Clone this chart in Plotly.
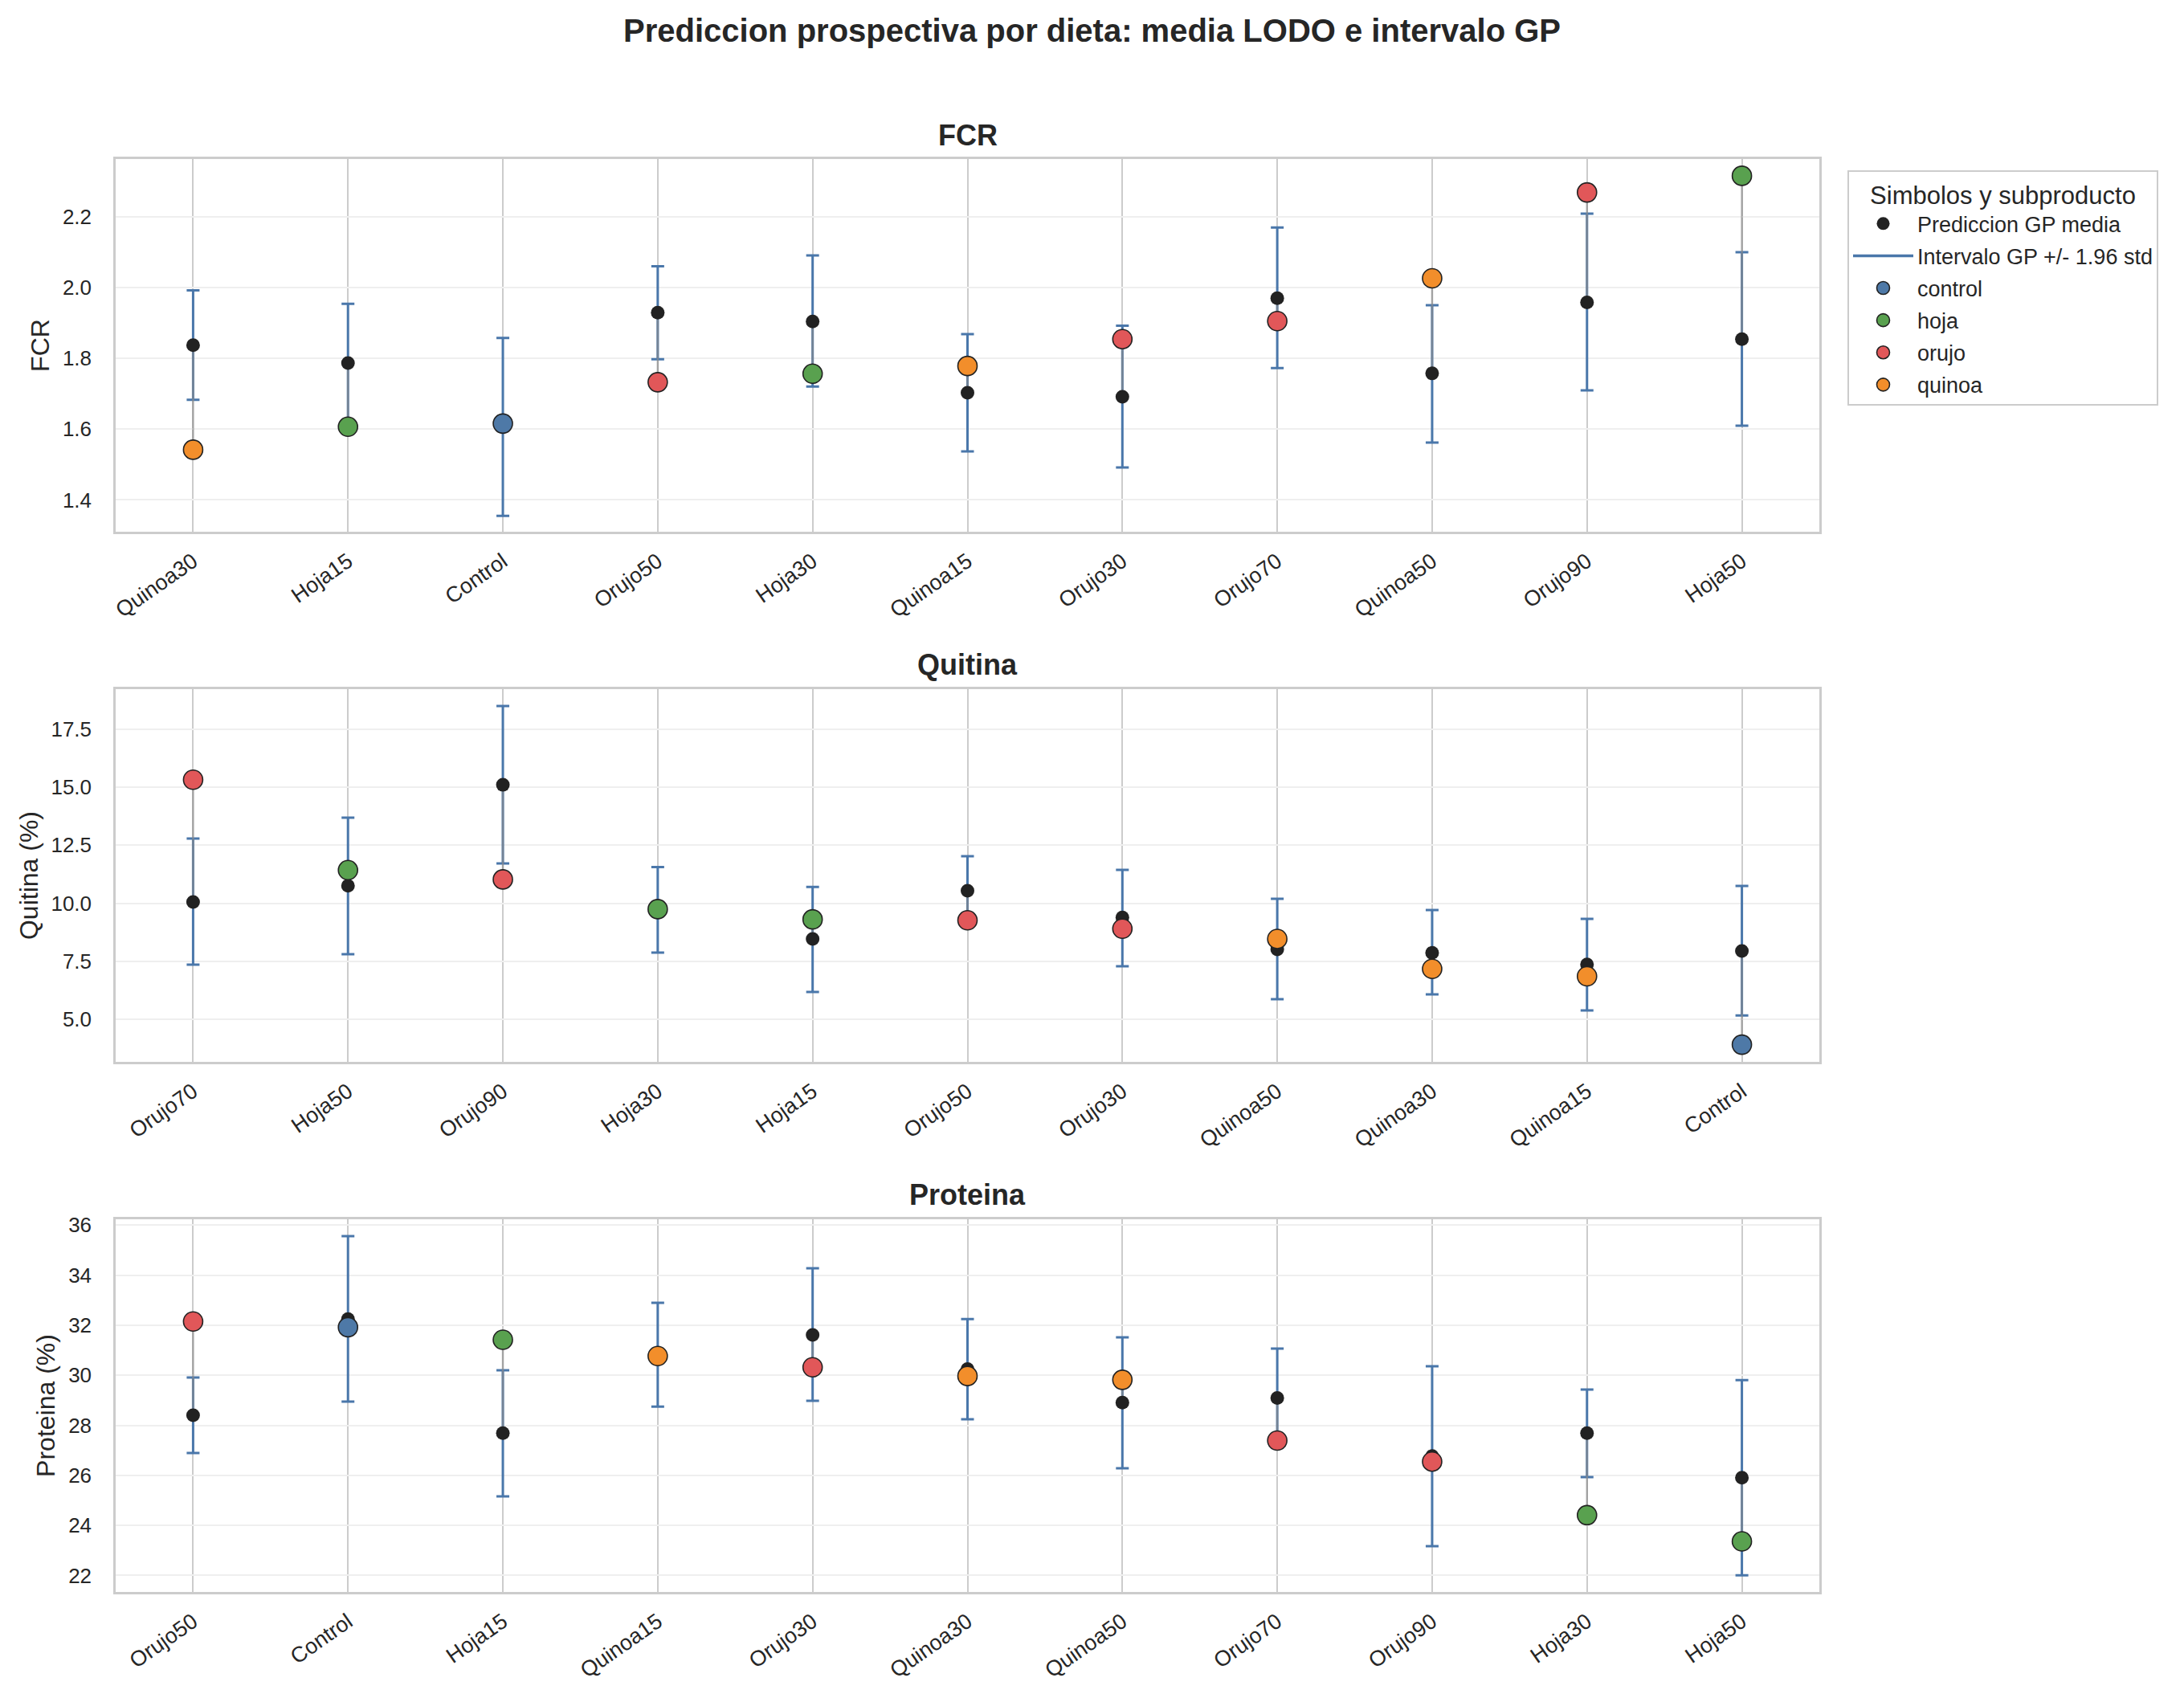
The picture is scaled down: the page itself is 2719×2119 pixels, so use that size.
import plotly.graph_objects as go

# ---------------- data ----------------
fcr_cats = ["Quinoa30", "Hoja15", "Control", "Orujo50", "Hoja30", "Quinoa15",
            "Orujo30", "Orujo70", "Quinoa50", "Orujo90", "Hoja50"]
fcr_mean = [1.838, 1.787, 1.607, 1.930, 1.905, 1.703, 1.692, 1.971, 1.758, 1.959, 1.855]
fcr_low = [1.683, 1.619, 1.355, 1.798, 1.721, 1.537, 1.492, 1.773, 1.562, 1.710, 1.610]
fcr_high = [1.993, 1.955, 1.858, 2.061, 2.092, 1.869, 1.893, 2.171, 1.951, 2.210, 2.101]
fcr_obs = [1.542, 1.607, 1.616, 1.733, 1.757, 1.779, 1.855, 1.906, 2.027, 2.270, 2.317]

qui_cats = ["Orujo70", "Hoja50", "Orujo90", "Hoja30", "Hoja15", "Orujo50",
            "Orujo30", "Quinoa50", "Quinoa30", "Quinoa15", "Control"]
qui_mean = [10.06, 10.76, 15.10, 9.72, 8.47, 10.54, 9.39, 8.02, 7.87, 7.37, 7.95]
qui_low = [7.36, 7.81, 11.72, 7.88, 6.19, 9.05, 7.29, 5.88, 6.08, 5.39, 5.18]
qui_high = [12.79, 13.69, 18.49, 11.56, 10.71, 12.03, 11.44, 10.20, 9.71, 9.33, 10.75]
qui_obs = [15.32, 11.43, 11.03, 9.75, 9.31, 9.27, 8.91, 8.47, 7.18, 6.86, 3.92]

pro_cats = ["Orujo50", "Control", "Hoja15", "Quinoa15", "Orujo30", "Quinoa30",
            "Quinoa50", "Orujo70", "Orujo90", "Hoja30", "Hoja50"]
pro_mean = [28.40, 32.25, 27.69, 30.82, 31.61, 30.25, 28.91, 29.09, 26.77, 27.69, 25.91]
pro_low = [26.89, 28.95, 25.16, 28.75, 28.98, 28.24, 26.28, 27.11, 23.17, 25.93, 22.01]
pro_high = [29.91, 35.56, 30.20, 32.90, 34.28, 32.25, 31.52, 31.07, 30.36, 29.43, 29.81]
pro_obs = [32.15, 31.92, 31.42, 30.77, 30.32, 29.97, 29.82, 27.39, 26.55, 24.41, 23.36]

groups = ["control", "hoja", "orujo", "quinoa"]
group_colors = {"control": "#4e79a7", "hoja": "#59a14f", "orujo": "#e15759", "quinoa": "#f28e2b"}

panels = [
    ("FCR", "FCR", fcr_cats, fcr_mean, fcr_low, fcr_high, fcr_obs, [1.31, 2.3645], 0.2, ".1f"),
    ("Quitina", "Quitina (%)", qui_cats, qui_mean, qui_low, qui_high, qui_obs, [3.18, 19.217], 2.5, ".1f"),
    ("Proteina", "Proteina (%)", pro_cats, pro_mean, pro_low, pro_high, pro_obs, [21.34, 36.235], 2, "d"),
]

# ---------------- layout geometry ----------------
W, H = 2719, 2119
ML, MR, MT, MB = 144, 454, 198, 137
PW, PH = W - ML - MR, H - MT - MB


def py(ypx):
    return (H - MB - ypx) / PH


def px(xpx):
    return (xpx - ML) / PW


panel_px = [(198, 662), (858, 1322), (1518, 1982)]
title_px = [168, 828, 1488]

ERR_COLOR = "#4a77aa"
FONT = "Liberation Sans, Arial, sans-serif"
TXT = "#262626"


def group_of(cat):
    return cat.rstrip("0123456789").lower()


fig = go.Figure()
annotations = []
layout_axes = {}

for i, (ptitle, ylabel, cats, mean, low, high, obs, yr, dt, fmt) in enumerate(panels):
    n = i + 1
    xa = "x" if n == 1 else f"x{n}"
    ya = "y" if n == 1 else f"y{n}"
    plus = [h - m for h, m in zip(high, mean)]
    minus = [m - l for m, l in zip(mean, low)]

    # GP interval (error bars)
    fig.add_trace(go.Scatter(
        x=cats, y=mean, mode="markers", xaxis=xa, yaxis=ya,
        marker=dict(size=1, opacity=0),
        error_y=dict(type="data", symmetric=False, array=plus, arrayminus=minus,
                     color=ERR_COLOR, thickness=3, width=8),
        showlegend=False, hoverinfo="skip"))

    # connector mean -> observed
    cx, cy = [], []
    for c, m, o in zip(cats, mean, obs):
        cx += [c, c, None]
        cy += [m, o, None]
    fig.add_trace(go.Scatter(
        x=cx, y=cy, mode="lines", xaxis=xa, yaxis=ya,
        line=dict(color="rgba(140,140,140,0.65)", width=2.5),
        showlegend=False, hoverinfo="skip"))

    # GP mean
    fig.add_trace(go.Scatter(
        x=cats, y=mean, mode="markers", xaxis=xa, yaxis=ya,
        marker=dict(size=17, color="#222222", line=dict(width=0)),
        name="Prediccion GP media", legendgroup="mean", showlegend=(n == 1)))

    if n == 1:
        fig.add_trace(go.Scatter(
            x=[None], y=[None], mode="lines", xaxis=xa, yaxis=ya,
            line=dict(color=ERR_COLOR, width=3.5), legendgroup="interval",
            name="Intervalo GP +/- 1.96 std", showlegend=True))

    # observed by subproduct
    for g in groups:
        gx = [c for c in cats if group_of(c) == g]
        gy = [o for c, o in zip(cats, obs) if group_of(c) == g]
        fig.add_trace(go.Scatter(
            x=gx, y=gy, mode="markers", xaxis=xa, yaxis=ya,
            marker=dict(size=24, color=group_colors[g], line=dict(color="#222222", width=1.6)),
            name=g, legendgroup=g, showlegend=(n == 1)))

    top, bot = panel_px[i]
    dom = [py(bot), py(top)]
    layout_axes["xaxis" if n == 1 else f"xaxis{n}"] = dict(
        domain=[0, 1], anchor=ya, type="category",
        categoryorder="array", categoryarray=cats, range=[-0.5, 10.5],
        showgrid=True, gridcolor="#cccccc", gridwidth=1.6,
        showline=True, linecolor="#cccccc", linewidth=2.5, mirror=True,
        ticks="", tickangle=-35, ticklabelstandoff=8,
        tickfont=dict(size=27, color=TXT, family=FONT), zeroline=False, automargin=False)
    layout_axes["yaxis" if n == 1 else f"yaxis{n}"] = dict(
        domain=dom, anchor=xa, range=yr, tick0=0, dtick=dt, tickformat=fmt,
        showgrid=True, gridcolor="#efefef", gridwidth=2,
        showline=True, linecolor="#cccccc", linewidth=2.5, mirror=True,
        ticks="", ticklabelstandoff=22, zeroline=False, automargin=False,
        tickfont=dict(size=26, color=TXT, family=FONT),
        title=dict(text=ylabel, font=dict(size=32, color=TXT, family=FONT), standoff=7))

    annotations.append(dict(
        text=f"<b>{ptitle}</b>", x=0.5, y=py(title_px[i]), xref="paper", yref="paper",
        xanchor="center", yanchor="middle", showarrow=False,
        font=dict(size=36, color=TXT, family=FONT)))

fig.update_layout(
    width=W, height=H,
    margin=dict(l=ML, r=MR, t=MT, b=MB, autoexpand=False),
    paper_bgcolor="white", plot_bgcolor="white",
    font=dict(family=FONT, color=TXT),
    title=dict(text="<b>Prediccion prospectiva por dieta: media LODO e intervalo GP</b>",
               x=0.5, xref="container", xanchor="center",
               y=1 - 38 / H, yref="container", yanchor="middle",
               font=dict(size=40, color=TXT, family=FONT)),
    legend=dict(
        x=px(2300), y=py(212), xanchor="left", yanchor="top",
        bordercolor="#cccccc", borderwidth=2, bgcolor="white",
        font=dict(size=27, color=TXT, family=FONT),
        title=dict(text="Simbolos y subproducto", side="top center",
                   font=dict(size=31, color=TXT, family=FONT)),
        itemwidth=75, tracegroupgap=2, traceorder="grouped"),
    annotations=annotations,
    showlegend=True,
    **layout_axes)

fig.write_html("out.html")
